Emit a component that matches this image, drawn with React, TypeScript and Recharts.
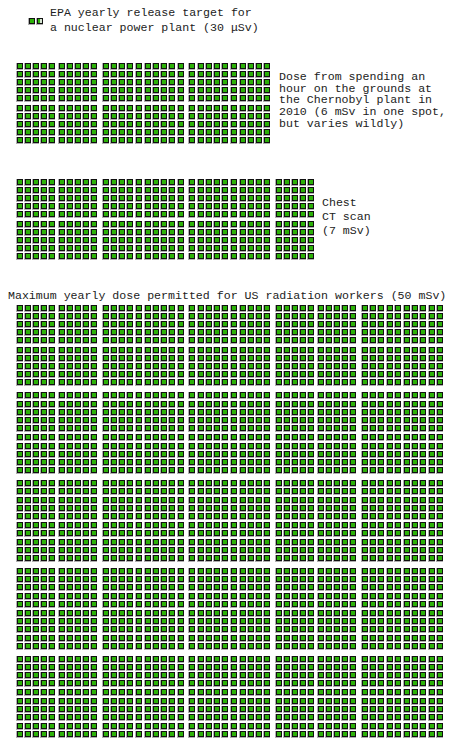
import { ScatterChart, Scatter, XAxis, YAxis } from 'recharts';

// one little square = 20 µSv, 100 squares per block
const UNIT_MICROSV = 20;

const sections = ['epa', 'chernobyl', 'ct', 'workers'];
const doseMicroSv = [30, 6000, 7000, 50000];
const labelLines = [
  ['EPA yearly release target for', 'a nuclear power plant (30 μSv)'],
  ['Dose from spending an', 'hour on the grounds at', 'the Chernobyl plant in', '2010 (6 mSv in one spot,', 'but varies wildly)'],
  ['Chest', 'CT scan', '(7 mSv)'],
  ['Maximum yearly dose permitted for US radiation workers (50 mSv)'],
];

// layout (page pixels)
const P = 8.15;
const BLOCK_X = 10.6;
const BLOCK_Y = 10.78;
const GROUP = 0.16;
const gridOrigin = [
  { x: 31.5, y: 21.5 },
  { x: 19.5, y: 66.5 },
  { x: 19.5, y: 182.5 },
  { x: 19.5, y: 308.5 },
];
const labelPos = [
  { x: 50, y: 13.5, lh: 14.4 },
  { x: 279, y: 76.7, lh: 11.7 },
  { x: 322, y: 203, lh: 14 },
  { x: 8, y: 296, lh: 14 },
];

const FONT = '"Liberation Mono", "DejaVu Sans Mono", monospace';

type Cell = { x: number; y: number; fill: number };

function cellsFor(dose: number): Cell[] {
  const units = dose / UNIT_MICROSV;
  const full = Math.floor(units);
  const count = Math.ceil(units);
  const out: Cell[] = [];
  for (let i = 0; i < count; i++) {
    const fill = i < full ? 1 : units - full;
    if (count <= 10) {
      out.push({ x: i, y: 0, fill });
      continue;
    }
    const block = Math.floor(i / 100);
    const k = i % 100;
    const col = Math.floor(k / 10);
    const row = k % 10;
    const bx = block % 5;
    const by = Math.floor(block / 5);
    out.push({
      x: bx * BLOCK_X + col + (col >= 5 ? GROUP : 0),
      y: by * BLOCK_Y + row + (row >= 5 ? GROUP : 0),
      fill,
    });
  }
  return out;
}

// crisp pixel square: gray shade left/bottom, black frame, green core
const Square = (props: any) => {
  const { cx, cy, payload } = props;
  const f = payload?.fill ?? 1;
  const x0 = Math.round(cx - 3.5);
  const y0 = Math.round(cy - 3.5);
  return (
    <g shapeRendering="crispEdges">
      <rect x={x0} y={y0} width={7} height={7} fill="#b0b0b0" />
      <rect x={x0 + 1} y={y0} width={6} height={6} fill="#111" />
      <rect x={x0 + 2} y={y0 + 1} width={4} height={4} fill="#d6e6d2" />
      <rect x={x0 + 2} y={y0 + 1} width={Math.round(4 * f)} height={4} fill="#2cb208" />
    </g>
  );
};

function UnitGrid({ index }: { index: number }) {
  const data = cellsFor(doseMicroSv[index]);
  const maxX = Math.max(...data.map((d) => d.x));
  const maxY = Math.max(...data.map((d) => d.y));
  const w = (maxX + 1) * P;
  const h = (maxY + 1) * P;
  const o = gridOrigin[index];
  return (
    <div style={{ position: 'absolute', left: o.x - P / 2, top: o.y - P / 2 }}>
      <ScatterChart width={w} height={h} margin={{ top: 0, right: 0, bottom: 0, left: 0 }}>
        <XAxis type="number" dataKey="x" domain={[-0.5, maxX + 0.5]} hide allowDataOverflow />
        <YAxis type="number" dataKey="y" domain={[-0.5, maxY + 0.5]} reversed hide allowDataOverflow />
        <Scatter data={data} shape={Square} isAnimationActive={false} />
      </ScatterChart>
    </div>
  );
}

function Label({ index }: { index: number }) {
  const p = labelPos[index];
  return (
    <div
      style={{
        position: 'absolute',
        left: p.x,
        top: p.y - p.lh / 2,
        fontFamily: FONT,
        fontSize: 11.6,
        lineHeight: `${p.lh}px`,
        color: '#222',
        whiteSpace: 'pre',
      }}
    >
      {labelLines[index].join('\n')}
    </div>
  );
}

export default function App() {
  return (
    <div style={{ position: 'absolute', left: 0, top: 0, width: 452, height: 742, background: '#fff', overflow: 'hidden' }}>
      {sections.map((s, i) => (
        <div key={s}>
          <UnitGrid index={i} />
          <Label index={i} />
        </div>
      ))}
    </div>
  );
}
